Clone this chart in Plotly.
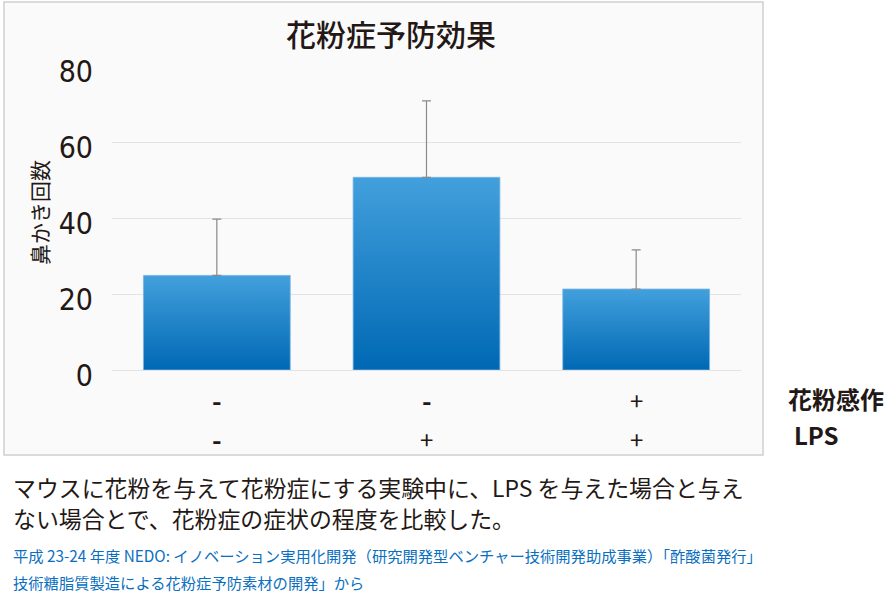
import plotly.graph_objects as go

# ---- data ----
categories = [0, 1, 2]
values = [24.9, 50.7, 21.3]
errors_up = [14.8, 20.1, 10.3]
row1_labels = ["-", "-", "+"]   # 花粉感作
row2_labels = ["-", "+", "+"]   # LPS
row_names = ["花粉感作", "LPS"]
y_ticks = [0, 20, 40, 60, 80]
title_text = "花粉症予防効果"
y_title = "鼻かき回数"
caption_lines = [
    "マウスに花粉を与えて花粉症にする実験中に、LPS を与えた場合と与え",
    "ない場合とで、花粉症の症状の程度を比較した。",
]
source_lines = [
    "平成 23-24 年度 NEDO: イノベーション実用化開発（研究開発型ベンチャー技術開発助成事業）「酢酸菌発行」",
    "技術糖脂質製造による花粉症予防素材の開発」から",
]

W, H = 895, 613
# box (plot area) in pixels
BL, BR, BT, BB = 4, 763, 2, 455
PW, PH = BR - BL, BB - BT


def px(x):
    return (x - BL) / PW


def py(y):
    return (BB - y) / PH


DARK = "#231815"
CJK = "Noto Sans CJK JP, Noto Sans, sans-serif"
NUM = "Liberation Sans Narrow, DejaVu Sans Condensed, Roboto, Noto Sans, sans-serif"

fig = go.Figure()

half = 0.35
for c, v in zip(categories, values):
    fig.add_trace(go.Scatter(
        x=[c - half, c + half, c + half, c - half, c - half],
        y=[0, 0, v, v, 0],
        mode="lines",
        fill="toself",
        line=dict(width=1, color="rgba(120,180,230,0.8)"),
        fillgradient=dict(type="vertical", start=0, stop=v,
                          colorscale=[[0, "#0068b4"], [1, "#42a0dc"]]),
        hoverinfo="skip",
        showlegend=False,
    ))

fig.add_trace(go.Scatter(
    x=categories, y=values, mode="markers",
    marker=dict(size=1, opacity=0),
    error_y=dict(type="data", array=errors_up, arrayminus=[0] * len(values),
                 symmetric=False, color="#8a8a8a", thickness=1.2, width=4.5),
    showlegend=False, hoverinfo="skip",
))

fig.update_layout(
    width=W, height=H,
    margin=dict(l=BL, r=W - BR, t=BT, b=H - BB, pad=0, autoexpand=False),
    paper_bgcolor="white",
    plot_bgcolor="rgba(0,0,0,0)",
    showlegend=False,
    xaxis=dict(domain=[px(112), px(741)], range=[-0.5, 2.5], automargin=False,
               showgrid=False, zeroline=False, showticklabels=False,
               ticks="", showline=False),
    yaxis=dict(domain=[py(370), py(66)], range=[0, 80], automargin=False,
               tickvals=y_ticks, ticktext=[str(t) for t in y_ticks],
               showgrid=True, gridcolor="#e3e3e3", gridwidth=1,
               zeroline=True, zerolinecolor="#e3e3e3", zerolinewidth=1,
               showline=False, ticks="",
               tickfont=dict(family=NUM, size=30, color=DARK),
               ticklabelstandoff=18, ticklabelshift=5),
    shapes=[dict(type="rect", xref="paper", yref="paper", x0=0, x1=1, y0=0, y1=1,
                 fillcolor="#fafafa", line=dict(color="#cfcfcf", width=1.5),
                 layer="below")],
)

ann = []
ann.append(dict(text=title_text, xref="paper", yref="paper", x=px(391), y=py(33),
                showarrow=False, xanchor="center", yanchor="middle",
                font=dict(family=CJK, size=30, color=DARK, weight=500)))
ann.append(dict(text=y_title, xref="paper", yref="paper", x=px(39), y=py(213),
                showarrow=False, xanchor="center", yanchor="middle", textangle=-90,
                font=dict(family=CJK, size=21, color=DARK)))
for c, a, b in zip(categories, row1_labels, row2_labels):
    for lab, yy in ((a, 399), (b, 438)):
        ann.append(dict(text=lab, xref="x", yref="paper", x=c, y=py(yy),
                        showarrow=False, xanchor="center", yanchor="middle",
                        font=dict(family=CJK, size=26 if lab == "-" else 24,
                                  color=DARK, weight=700 if lab == "-" else 400)))
for name, yy, xx in ((row_names[0], 398, 786), (row_names[1], 434, 792)):
    ann.append(dict(text=name, xref="paper", yref="paper", x=px(xx), y=py(yy),
                    showarrow=False, xanchor="left", yanchor="middle",
                    font=dict(family=CJK, size=24, color=DARK, weight=700)))
for line, yy in zip(caption_lines, (487, 518)):
    ann.append(dict(text=line, xref="paper", yref="paper", x=px(11), y=py(yy),
                    showarrow=False, xanchor="left", yanchor="middle",
                    font=dict(family=CJK, size=22.9, color=DARK)))
for line, yy in zip(source_lines, (555, 582)):
    ann.append(dict(text=line, xref="paper", yref="paper", x=px(11), y=py(yy),
                    showarrow=False, xanchor="left", yanchor="middle",
                    font=dict(family=CJK, size=15.3, color="#0a6fc0")))
fig.update_layout(annotations=ann)

fig.write_html("out.html", config={"displayModeBar": False},
               post_script="document.body.style.margin='0';")
